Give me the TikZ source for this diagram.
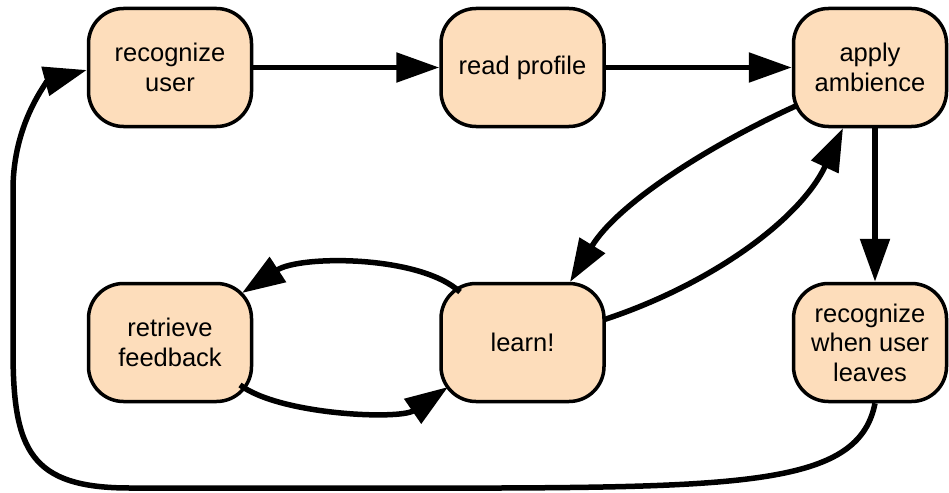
\documentclass[tikz,border=0pt]{standalone}
\usepackage{fontspec}
\setmainfont{Liberation Sans}
\usetikzlibrary{arrows.meta}
\definecolor{peach}{RGB}{253,221,187}
\begin{document}
\begin{tikzpicture}[x=1pt,y=-1pt,
  box/.style={draw, line width=3.5pt, fill=peach, rounded corners=35pt,
    minimum width=163pt, minimum height=118pt, align=center, inner sep=0pt,
    font=\fontsize{25.5}{29.5}\selectfont},
  conn/.style={line width=5.5pt, -{Triangle[length=43pt,width=29pt]}}]
\useasboundingbox (0,0) rectangle (949,492);
\node[box] (ru) at (170,67.5) {recognize\\user};
\node[box] (rp) at (522.5,67.5) {read profile};
\node[box, minimum width=153pt] (aa) at (870,67.5) {apply\\ambience};
\node[box] (rf) at (170,342.5) {retrieve\\feedback};
\node[box] (le) at (522.5,342.5) {learn!};
\node[box, minimum width=153pt] (rw) at (870,342.5) {recognize\\when user\\leaves};

\draw[conn] (ru.east) -- (rp.west);
\draw[conn] (rp.east) -- (aa.west);
\draw[conn] ([xshift=5pt]aa.south) -- ([xshift=5pt]rw.north);
\draw[conn] ([shift={(-72,37.5)}]aa.center) .. controls (720,140) and (620,200) .. ([shift={(47.5,-60.5)}]le.center);
\draw[conn] ([shift={(80.5,-22.5)}]le.center) .. controls (710,285) and (800,220) .. ([shift={(-27,60.5)}]aa.center);
\draw[conn] ([shift={(-62.5,-50.5)}]le.center) .. controls (420,255) and (300,255) .. ([shift={(72,-49.5)}]rf.center);
\draw[conn] ([shift={(70,42.5)}]rf.center) .. controls (280,415) and (400,420) .. ([shift={(-74.5,44.5)}]le.center);
\draw[conn] ([xshift=5pt]rw.south) .. controls (860,480) and (760,487) .. (500,488)
  -- (130,488) .. controls (30,488) and (13,450) .. (13,350)
  -- (13,190) .. controls (13,120) and (50,80) .. ([yshift=-2.5pt]ru.west);
\end{tikzpicture}
\end{document}
